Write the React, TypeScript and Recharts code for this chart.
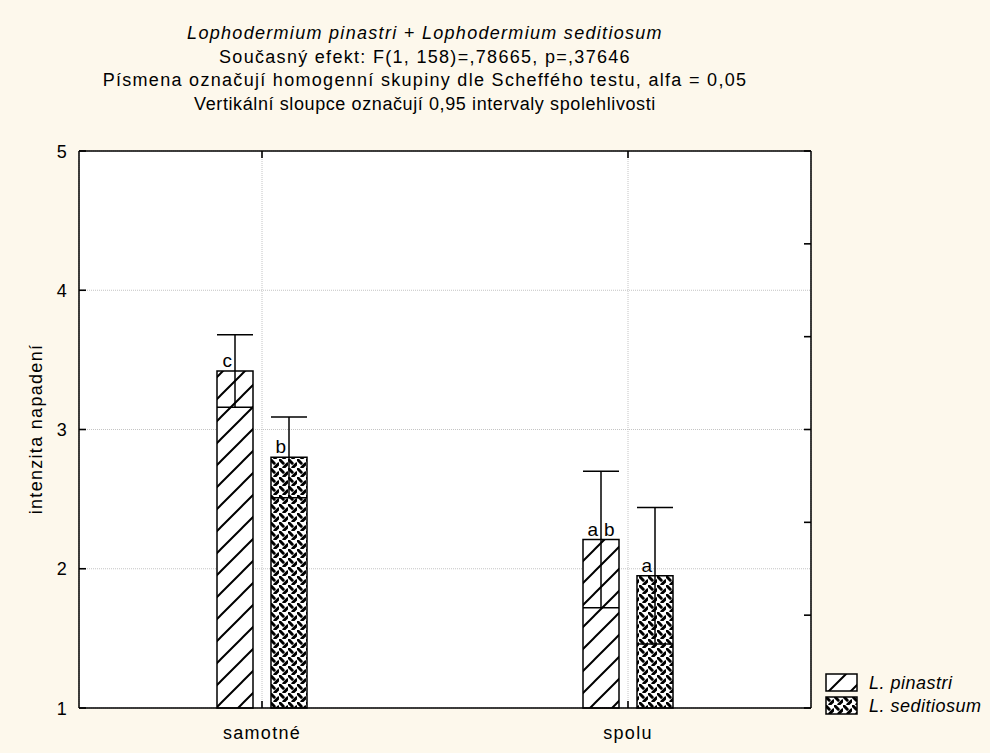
import React from "react";
import { BarChart, Bar, XAxis, YAxis, CartesianGrid, ErrorBar, LabelList } from "recharts";

const groups = ["samotné", "spolu"];
const pinastriMeans = [3.42, 2.21];
const pinastriCI = [0.26, 0.49];
const seditiosumMeans = [2.8, 1.95];
const seditiosumCI = [0.29, 0.49];
const pinastriLetters = ["c", "a b"];
const seditiosumLetters = ["b", "a"];
const yTicks = [1, 2, 3, 4, 5];
const rightTicks = [1, 5 / 3, 7 / 3, 3, 11 / 3, 13 / 3, 5];
const seriesNames = ["L. pinastri", "L. seditiosum"];
const titleLines = [
  "Lophodermium pinastri + Lophodermium seditiosum",
  "Současný efekt: F(1, 158)=,78665, p=,37646",
  "Písmena označují homogenní skupiny dle Scheffého testu, alfa = 0,05",
  "Vertikální sloupce označují 0,95 intervaly spolehlivosti",
];

const data = groups.map((g, i) => ({
  group: g,
  pinastri: pinastriMeans[i],
  pinastriErr: pinastriCI[i],
  pinastriLbl: pinastriLetters[i],
  seditiosum: seditiosumMeans[i],
  seditiosumErr: seditiosumCI[i],
  seditiosumLbl: seditiosumLetters[i],
}));

// the left axis carries both tick sets; it draws the right-hand marks too
const allYTicks = Array.from(new Set([...yTicks, ...rightTicks])).sort((a, b) => a - b);
const near = (list: number[], v: number) => list.some((t) => Math.abs(t - v) < 1e-6);

const FONT = '"Liberation Sans", Arial, sans-serif';
const BG = "#FDF8EC";
const SPACING = 1.3;
const TICK_LEN = 7;

// chart box and margins; the plot area is what remains inside the axes
const W = 990;
const H = 753;
const MARGIN = { top: 150, right: 178, bottom: 0, left: 0 };
const LEFT_AXIS_W = 79;
const RIGHT_AXIS_W = 1;
const TOP_AXIS_H = 1;
const BOTTOM_AXIS_H = 45;
const PLOT_W = W - MARGIN.left - MARGIN.right - LEFT_AXIS_W - RIGHT_AXIS_W;
const PLOT_H = H - MARGIN.top - MARGIN.bottom - TOP_AXIS_H - BOTTOM_AXIS_H;

// hatch and weave fills, shared by bars and legend swatches
function Patterns({ prefix }: { prefix: string }) {
  return (
    <defs>
      <pattern id={`${prefix}-hatch`} patternUnits="userSpaceOnUse" width={22} height={22}>
        <rect width={22} height={22} fill="#fff" />
        <path d="M0,22 L22,0 M-3,3 L3,-3 M19,25 L25,19" stroke="#000" strokeWidth={2} />
      </pattern>
      <pattern id={`${prefix}-weave`} patternUnits="userSpaceOnUse" width={9} height={9}>
        <rect width={9} height={9} fill="#fff" />
        <path d="M0.5,0.5 L4.2,4.2 M4.8,8.5 L8.5,4.8" stroke="#000" strokeWidth={3} strokeLinecap="round" />
      </pattern>
    </defs>
  );
}

const LetterLabel = (props: any) => {
  const { x, y, width, value } = props;
  if (!value) return null;
  const cx = x + width / 2;
  const parts = String(value).split(" ");
  const ty = y - 4;
  return (
    <g fontFamily={FONT} fontSize={19} fill="#000">
      <text x={cx - 3} y={ty} textAnchor="end">
        {parts[0]}
      </text>
      {parts[1] && (
        <text x={cx + 3} y={ty} textAnchor="start">
          {parts[1]}
        </text>
      )}
    </g>
  );
};

// all axis ticks point into the plot area
const LeftTick = ({ x, y, payload }: any) => {
  const v = payload.value;
  const main = near(yTicks, v);
  const minor = near(rightTicks, v);
  return (
    <g>
      {main && <line x1={x} x2={x + TICK_LEN} y1={y} y2={y} stroke="#000" strokeWidth={1.6} />}
      {minor && <line x1={x + PLOT_W} x2={x + PLOT_W - TICK_LEN} y1={y} y2={y} stroke="#000" strokeWidth={1.6} />}
      {main && (
        <text x={x - 11} y={y} dy={6.5} textAnchor="end" fontFamily={FONT} fontSize={18} letterSpacing={SPACING} fill="#000">
          {v}
        </text>
      )}
    </g>
  );
};

const BottomTick = ({ x, y, payload }: any) => (
  <g>
    <line x1={x} x2={x} y1={y} y2={y - TICK_LEN} stroke="#000" strokeWidth={1.6} />
    <text x={x} y={y + 31} textAnchor="middle" fontFamily={FONT} fontSize={18} letterSpacing={SPACING} fill="#000">
      {payload.value}
    </text>
  </g>
);

const TopTick = ({ x, y }: any) => (
  <g>
    <line x1={x} x2={x} y1={y} y2={y + TICK_LEN} stroke="#000" strokeWidth={1.6} />
  </g>
);

export default function App() {
  const axisLine = { stroke: "#000", strokeWidth: 1.5 };
  const plotLeft = MARGIN.left + LEFT_AXIS_W;
  const plotTop = MARGIN.top + TOP_AXIS_H;
  return (
    <div style={{ position: "absolute", left: 0, top: 0, width: W, height: H, background: BG, fontFamily: FONT }}>
      {/* white plot background sits under the svg so inward ticks stay visible */}
      <div style={{ position: "absolute", left: plotLeft, top: plotTop, width: PLOT_W, height: PLOT_H, background: "#fff" }} />

      <div
        style={{
          position: "absolute",
          left: 0,
          top: 22,
          width: 850,
          textAlign: "center",
          fontSize: 18,
          lineHeight: "23.5px",
          color: "#000",
          whiteSpace: "nowrap",
        }}
      >
        {titleLines.map((t, i) => (
          <div key={i} style={{ fontStyle: i === 0 ? "italic" : "normal", letterSpacing: i === 3 ? 0.6 : SPACING }}>
            {t}
          </div>
        ))}
      </div>

      <div
        style={{
          position: "absolute",
          left: 36,
          top: 429,
          transform: "translate(-50%, -50%) rotate(-90deg)",
          whiteSpace: "nowrap",
          fontSize: 18,
          letterSpacing: SPACING,
        }}
      >
        intenzita napadení
      </div>

      <BarChart width={W} height={H} data={data} margin={MARGIN} barSize={36} barGap={18}>
        <Patterns prefix="bar" />
        <CartesianGrid xAxisId="bottom" yAxisId="left" horizontalValues={yTicks} stroke="#c4c4c4" strokeDasharray="1 1" />
        <XAxis
          xAxisId="bottom"
          dataKey="group"
          height={BOTTOM_AXIS_H}
          axisLine={axisLine}
          tickLine={false}
          tickSize={0}
          tickMargin={0}
          interval={0}
          tick={BottomTick}
        />
        <XAxis
          xAxisId="top"
          dataKey="group"
          orientation="top"
          height={TOP_AXIS_H}
          axisLine={axisLine}
          tickLine={false}
          tickSize={0}
          tickMargin={0}
          interval={0}
          tick={TopTick}
        />
        <YAxis
          yAxisId="left"
          type="number"
          domain={[1, 5]}
          ticks={allYTicks}
          width={LEFT_AXIS_W}
          axisLine={axisLine}
          tickLine={false}
          tickSize={0}
          tickMargin={0}
          interval={0}
          tick={LeftTick}
        />
        <YAxis
          yAxisId="right"
          orientation="right"
          type="number"
          domain={[1, 5]}
          width={RIGHT_AXIS_W}
          axisLine={axisLine}
          tickLine={false}
          tick={false}
        />
        <Bar
          xAxisId="bottom"
          yAxisId="left"
          dataKey="pinastri"
          name={seriesNames[0]}
          fill="url(#bar-hatch)"
          stroke="#000"
          strokeWidth={1.5}
          isAnimationActive={false}
        >
          <ErrorBar dataKey="pinastriErr" width={18} stroke="#000" strokeWidth={1.5} direction="y" />
          <LabelList dataKey="pinastriLbl" content={LetterLabel} />
        </Bar>
        <Bar
          xAxisId="bottom"
          yAxisId="left"
          dataKey="seditiosum"
          name={seriesNames[1]}
          fill="url(#bar-weave)"
          stroke="#000"
          strokeWidth={1.5}
          isAnimationActive={false}
        >
          <ErrorBar dataKey="seditiosumErr" width={18} stroke="#000" strokeWidth={1.5} direction="y" />
          <LabelList dataKey="seditiosumLbl" content={LetterLabel} />
        </Bar>
      </BarChart>

      {/* legend */}
      <div style={{ position: "absolute", left: 825, top: 672, width: 165, whiteSpace: "nowrap" }}>
        {seriesNames.map((name, i) => (
          <div key={name} style={{ display: "flex", alignItems: "center", height: 22, marginTop: i === 0 ? 0 : 1 }}>
            <svg width={34} height={20} style={{ flex: "none" }}>
              <Patterns prefix={`lg${i}`} />
              <rect x={1} y={1} width={31} height={17} fill={`url(#lg${i}-${i === 0 ? "hatch" : "weave"})`} stroke="#000" strokeWidth={1.5} />
            </svg>
            <span style={{ fontStyle: "italic", fontSize: 18, marginLeft: 10, letterSpacing: 0.5 }}>{name}</span>
          </div>
        ))}
      </div>
    </div>
  );
}
